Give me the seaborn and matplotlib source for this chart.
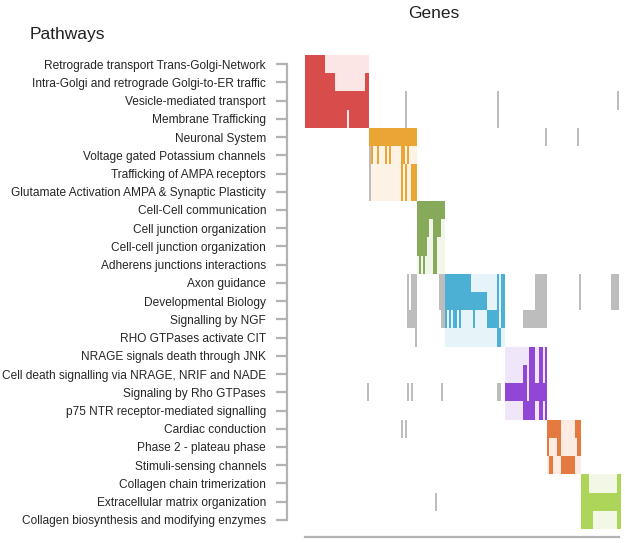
import matplotlib
matplotlib.use('Agg')
import matplotlib.pyplot as plt
import seaborn as sns
import numpy as np
from matplotlib.colors import ListedColormap

sns.set_style('white')
plt.rcParams['font.family'] = ['Liberation Sans', 'DejaVu Sans']

pathways = [
    'Retrograde transport Trans-Golgi-Network',
    'Intra-Golgi and retrograde Golgi-to-ER traffic',
    'Vesicle-mediated transport',
    'Membrane Trafficking',
    'Neuronal System',
    'Voltage gated Potassium channels',
    'Trafficking of AMPA receptors',
    'Glutamate Activation AMPA & Synaptic Plasticity',
    'Cell-Cell communication',
    'Cell junction organization',
    'Cell-cell junction organization',
    'Adherens junctions interactions',
    'Axon guidance',
    'Developmental Biology',
    'Signalling by NGF',
    'RHO GTPases activate CIT',
    'NRAGE signals death through JNK',
    'Cell death signalling via NRAGE, NRIF and NADE',
    'Signaling by Rho GTPases',
    'p75 NTR receptor-mediated signalling',
    'Cardiac conduction',
    'Phase 2 - plateau phase',
    'Stimuli-sensing channels',
    'Collagen chain trimerization',
    'Extracellular matrix organization',
    'Collagen biosynthesis and modifying enzymes',
]

n_genes = 158

# which gene cluster each pathway belongs to
row_cluster = [0, 0, 0, 0, 1, 1, 1, 1, 2, 2, 2, 2, 3, 3, 3, 3,
               4, 4, 4, 4, 5, 5, 5, 6, 6, 6]
# gene index range of each cluster (ordered genes)
cluster_genes = [(0, 32), (32, 56), (56, 70), (70, 100), (100, 121), (121, 138), (138, 158)]
dark_colors = ['#d94c4c', '#eba535', '#86a95a', '#4bb0d3', '#9147d6', '#e57a40', '#add55a']
light_colors = ['#fbe5e5', '#fcf2e6', '#f1f5ea', '#e6f4fa', '#efe6fa', '#fcebe2', '#f2f7e6']
gray_color = '#bdbdbd'

# genes in the pathway (strong colour); the rest of the cluster is drawn light
member_genes = [
    [(0, 10)],
    [(0, 15), (30, 32)],
    [(0, 32)],
    [(0, 21), (22, 32)],
    [(32, 56)],
    [(33, 34), (36, 37), (40, 41), (42, 43), (48, 50), (51, 52)],
    [(48, 49), (50, 51), (53, 56)],
    [(48, 49), (50, 51), (53, 56)],
    [(56, 70)],
    [(56, 62), (64, 68)],
    [(56, 61), (64, 66)],
    [(57, 58), (59, 60), (64, 66)],
    [(70, 83), (96, 97), (98, 100)],
    [(70, 91), (96, 97), (98, 100)],
    [(70, 71), (72, 73), (74, 76), (77, 78), (84, 85), (91, 97), (98, 100)],
    [(96, 98)],
    [(112, 115), (117, 119), (120, 121)],
    [(109, 111), (112, 115), (117, 119), (120, 121)],
    [(100, 111), (112, 121)],
    [(109, 115), (117, 119), (120, 121)],
    [(121, 128), (135, 138)],
    [(121, 122), (126, 128), (136, 138)],
    [(122, 124), (128, 135)],
    [(138, 142), (156, 158)],
    [(138, 158)],
    [(138, 144), (156, 158)],
]

# genes of the pathway that sit in other clusters (grey)
other_genes = [
    [],
    [],
    [(50, 51), (96, 97), (156, 157)],
    [(50, 51), (96, 97)],
    [(120, 121), (136, 137)],
    [(32, 33)],
    [(32, 33)],
    [(32, 33)],
    [],
    [],
    [],
    [],
    [(51, 52), (53, 56), (67, 70), (115, 121), (137, 138), (153, 157)],
    [(51, 52), (53, 56), (67, 70), (115, 121), (137, 138), (153, 157)],
    [(51, 56), (68, 70), (109, 121)],
    [(55, 56)],
    [],
    [],
    [(31, 32), (51, 52), (53, 54), (68, 69), (96, 98)],
    [],
    [(48, 49), (50, 51)],
    [],
    [],
    [],
    [(65, 66)],
    [],
]

# build the code matrix: 0 white, 1 grey, 2+2k light, 3+2k dark
mat = np.zeros((len(pathways), n_genes))
for i, k in enumerate(row_cluster):
    a, b = cluster_genes[k]
    mat[i, a:b] = 2 + 2 * k
    for s, e in member_genes[i]:
        mat[i, s:e] = 3 + 2 * k
    for s, e in other_genes[i]:
        mat[i, s:e] = 1

colors = ['#ffffff', gray_color]
for k in range(len(cluster_genes)):
    colors += [light_colors[k], dark_colors[k]]
cmap = ListedColormap(colors)

fig = plt.figure(figsize=(6.25, 5.43), dpi=100)
ax = fig.add_axes([305 / 625, 1 - 529 / 543, 316 / 625, 474 / 543])
sns.heatmap(mat, cmap=cmap, vmin=-0.5, vmax=len(colors) - 0.5, cbar=False, ax=ax)

ax.set_xticks([])
ax.set_yticks(np.arange(len(pathways)) + 0.5)
ax.set_yticklabels(pathways, rotation=0, color='#222222')
ax.tick_params(axis='y', length=8, width=1.6, color='#b3b3b3', pad=7, left=True,
               labelsize=8.6)

for side in ['left', 'bottom']:
    ax.spines[side].set_visible(True)
    ax.spines[side].set_color('#b3b3b3')
    ax.spines[side].set_linewidth(1.6)
ax.spines['left'].set_position(('outward', 13))
ax.spines['left'].set_bounds(0.5, len(pathways) - 0.5)
ax.spines['bottom'].set_position(('outward', 6))
ax.spines['bottom'].set_bounds(0, n_genes - 1)
ax.spines['top'].set_visible(False)
ax.spines['right'].set_visible(False)

fig.text(434 / 625, 1 - 14 / 543, 'Genes', ha='center', va='center', fontsize=12.5, color='#222222')
fig.text(30 / 625, 1 - 34 / 543, 'Pathways', ha='left', va='center', fontsize=12.5, color='#222222')

fig.savefig('out.png', dpi=100)
